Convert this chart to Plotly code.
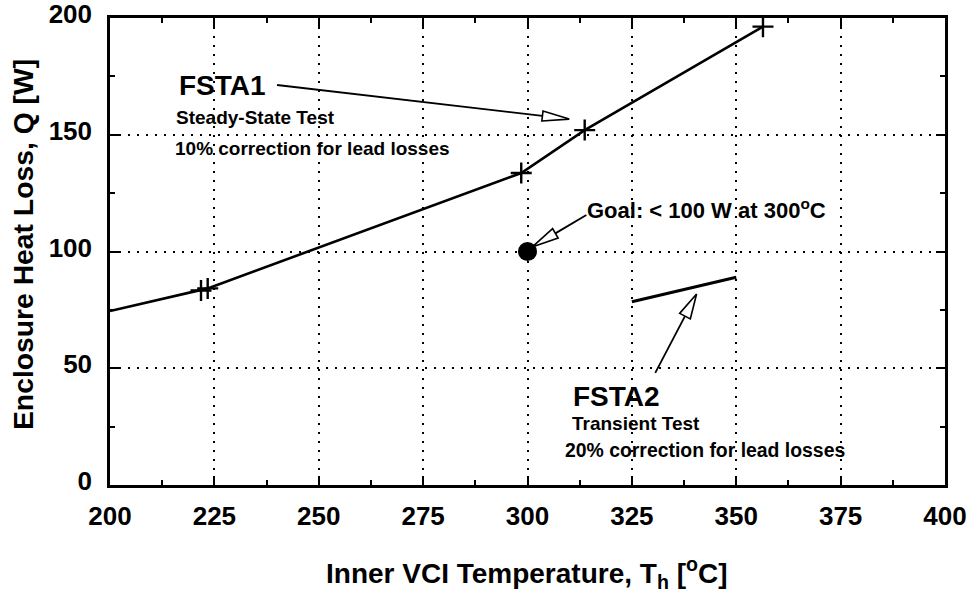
import plotly.graph_objects as go

# ---------------- data ----------------
fsta1_T = [200, 221.8, 223.4, 298.5, 313.7, 356.4]      # first point = line start at the axis
fsta1_Q = [74.5, 83.3, 84.2, 133.6, 152.0, 196.3]
fsta2_T = [325, 337.5, 350]
fsta2_Q = [78.5, 83.8, 89.0]
goal_T = [300]
goal_Q = [100]
x_ticks = [200, 225, 250, 275, 300, 325, 350, 375, 400]
y_ticks = [0, 50, 100, 150, 200]

# ---------------- layout constants ----------------
W, H = 969, 593
ML, MR, MT, MB = 110, 24, 18, 108
XR = (200, 400)
YR = (0, 200)
pw, ph = W - ML - MR, H - MT - MB
sx = pw / (XR[1] - XR[0])   # px per degC
sy = ph / (YR[1] - YR[0])   # px per W
FONT = "Liberation Sans, Arial, sans-serif"

fig = go.Figure()
fig.add_trace(go.Scatter(x=fsta1_T, y=fsta1_Q, mode="lines",
                         line=dict(color="black", width=2.6), hoverinfo="skip"))
fig.add_trace(go.Scatter(x=fsta1_T[1:], y=fsta1_Q[1:], mode="markers",
                         marker=dict(symbol="cross-thin", size=15,
                                     line=dict(color="black", width=2.4))))
fig.add_trace(go.Scatter(x=fsta2_T, y=fsta2_Q, mode="lines",
                         line=dict(color="black", width=3)))
fig.add_trace(go.Scatter(x=goal_T, y=goal_Q, mode="markers",
                         marker=dict(symbol="circle", size=19, color="black",
                                     line=dict(width=0))))


def arrow(tail, tip, head_len, head_half):
    """Shaft + open (white) arrowhead; tail/tip in data units, head sizes in px."""
    tx, ty = (tail[0] - XR[0]) * sx, -(tail[1] - YR[0]) * sy
    px, py = (tip[0] - XR[0]) * sx, -(tip[1] - YR[0]) * sy
    dx, dy = px - tx, py - ty
    L = (dx * dx + dy * dy) ** 0.5
    ux, uy = dx / L, dy / L
    bx, by = px - ux * head_len, py - uy * head_len
    nx, ny = -uy, ux
    p1 = (bx + nx * head_half, by + ny * head_half)
    p2 = (bx - nx * head_half, by - ny * head_half)

    def d(p):
        return (XR[0] + p[0] / sx, YR[0] - p[1] / sy)

    b = d((bx, by))
    fig.add_shape(type="line", x0=tail[0], y0=tail[1], x1=b[0], y1=b[1],
                  xref="x", yref="y", line=dict(color="black", width=1.8))
    a, c, t = d(p1), d(p2), d((px, py))
    fig.add_shape(type="path", xref="x", yref="y",
                  path=f"M {a[0]},{a[1]} L {t[0]},{t[1]} L {c[0]},{c[1]} Z",
                  fillcolor="white", line=dict(color="black", width=1.6))


arrow((240.0, 171.3), (310.0, 156.7), 27, 5)
arrow((314.1, 115.6), (301.1, 101.9), 27, 5.5)
arrow((330.6, 48.0), (340.5, 81.8), 25, 6)

ann = []


def txt(x, y, s, size):
    ann.append(dict(x=x, y=y, xref="x", yref="y", text=s, showarrow=False,
                    xanchor="left", yanchor="middle",
                    font=dict(family=FONT, size=size, color="black", weight="bold")))


txt(216.1, 171.3, "FSTA1", 28)
txt(215.3, 157.6, "Steady-State Test", 19)
txt(215.1, 143.9, "10% correction for lead losses", 19)
txt(313.8, 118.4, "Goal: < 100 W at 300<sup>o</sup>C", 22)
txt(310.3, 38.1, "FSTA2", 28)
txt(310.1, 26.3, "Transient Test", 19)
txt(308.4, 15.0, "20% correction for lead losses", 19.4)

# axis titles, positioned in screen pixels of the reference
ann.append(dict(xref="paper", yref="paper", x=(23 - ML) / pw, y=(485 - 245) / ph,
                text="Enclosure Heat Loss, Q [W]", textangle=-90, showarrow=False,
                xanchor="center", yanchor="middle",
                font=dict(family=FONT, size=28.3, color="black", weight="bold")))
ann.append(dict(xref="paper", yref="paper", x=(526 - ML) / pw, y=-(573 - 485) / ph,
                text="Inner VCI Temperature, T<sub>h</sub> [<sup>o</sup>C]", showarrow=False,
                xanchor="center", yanchor="middle",
                font=dict(family=FONT, size=28, color="black", weight="bold")))

axis_common = dict(showline=True, linecolor="black", linewidth=2.5, mirror="ticks",
                   ticks="inside", ticklen=9, tickwidth=2, tickcolor="black",
                   showgrid=True, gridcolor="black", gridwidth=2, griddash="2px,7px",
                   zeroline=False, automargin=False, ticklabeloverflow="allow",
                   tickfont=dict(family=FONT, size=26, color="black", weight="bold"))

fig.update_layout(
    width=W, height=H, showlegend=False,
    margin=dict(l=ML, r=MR, t=MT, b=MB, autoexpand=False),
    paper_bgcolor="white", plot_bgcolor="white",
    xaxis=dict(range=list(XR), tickvals=x_ticks, ticklabelstandoff=6,
               minor=dict(dtick=12.5, tick0=200, ticks="inside", ticklen=5,
                          tickwidth=2, tickcolor="black", showgrid=False),
               **axis_common),
    yaxis=dict(range=list(YR), tickvals=y_ticks, ticklabelstandoff=10, ticklabelshift=-4,
               minor=dict(dtick=25, tick0=0, ticks="inside", ticklen=5,
                          tickwidth=2, tickcolor="black", showgrid=False),
               **axis_common),
    annotations=ann,
)

# page without the default 8px body margin and without scrollbars; no modebar
fig.write_html("out.html", config={"displayModeBar": False}, post_script=(
    "document.documentElement.style.margin='0';"
    "document.body.style.margin='0';"
    "document.documentElement.style.overflow='hidden';"
    "document.body.style.overflow='hidden';"))
